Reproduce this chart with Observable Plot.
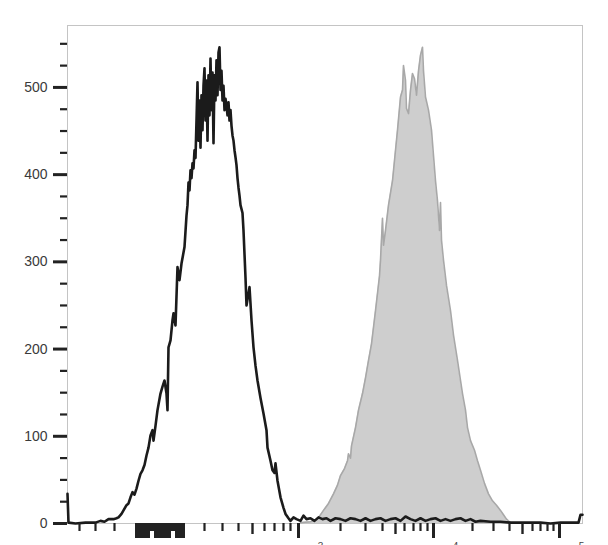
<!DOCTYPE html>
<html><head><meta charset="utf-8">
<script src="https://cdn.jsdelivr.net/npm/d3@7"></script>
<script src="https://cdn.jsdelivr.net/npm/@observablehq/plot@0.6"></script>
<style>html,body{margin:0;padding:0;background:#fff;overflow:hidden} #chart svg{display:block}</style>
</head><body><div id="chart"></div>
<script>
// Display channel (0–1030) vs. event count
const blackChannel = [0,2,16,36,56,66,74,82,92,98,
102,108,112,118,122,126,130,134,138,142,
146,150,154,158,162,166,170,172,176,180,
186,190,194,198,200,202,206,210,212,216,
220,224,228,234,238,240,242,244,246,248,
250,252,254,256,258,260,262,264,266,268,
270,272,274,276,278,280,282,284,286,288,
290,292,294,296,298,300,302,304,306,308,
310,312,314,316,318,320,322,324,326,328,
330,332,334,336,338,340,342,344,346,350,
352,356,358,364,368,372,376,380,386,392,
398,400,406,410,414,416,420,426,432,436,
442,446,452,458,466,472,478,486,494,502,
510,518,526,536,546,556,566,576,586,596,
606,616,626,636,646,656,666,676,686,696,
706,716,726,736,746,756,766,776,786,796,
806,816,826,846,866,886,906,926,946,966,
986,1006,1022,1026,1030];
const blackCount = [34,1,0,1,1,3,2,5,5,6,
7,11,15,21,23,30,36,33,40,49,
57,61,67,78,87,101,107,95,112,130,
149,157,164,149,130,202,210,233,241,227,
294,279,298,317,353,365,391,382,405,396,
413,407,428,419,462,506,439,485,431,491,
451,502,522,462,508,439,514,468,533,474,
517,436,514,485,531,491,540,546,497,519,
485,502,474,487,479,468,483,462,474,456,
445,439,428,420,411,396,385,376,365,356,
336,282,250,271,233,202,181,164,144,126,
107,87,72,61,58,69,49,30,18,11,
6,3,7,5,3,9,5,6,3,7,
5,6,3,6,5,3,6,5,3,6,
3,5,6,3,5,6,3,8,5,3,
6,3,5,6,3,5,3,5,6,3,
5,2,3,2,2,1,1,1,1,0,
1,1,1,10,10];

const grayChannel = [466,486,500,512,522,532,540,546,554,560,
562,566,568,576,582,590,596,602,608,612,
616,620,624,626,630,632,636,642,650,656,
660,666,670,672,676,678,682,686,690,694,
698,702,706,710,712,716,722,728,732,736,
740,744,746,748,752,758,766,772,780,786,
790,796,800,806,814,820,826,834,842,850,
858,866,872,878,886];
const grayCount = [1,2,5,15,23,34,44,55,63,72,
80,75,89,110,130,149,167,187,206,225,
244,264,284,302,350,319,336,365,393,428,
451,489,497,525,508,476,470,497,516,510,
491,519,537,546,519,489,474,451,422,393,
370,336,368,325,302,273,244,216,187,164,
149,130,110,95,84,72,61,46,34,26,
21,15,10,5,1];

// Axis ticks
const yMajor = [0,100,200,300,400,500];
const yMinor = [25,50,75,125,150,175,225,250,275,325,350,375,425,450,475,525,550];
const xMajor = [462,732,984];
const xCluster = [138,143,147,152,157,162,176,181,186,190,195,200,204,218,223,228,232];
const xClusterShort = [167,171,209,214];
const xMedium = [370,656,910];
const xMinor = [24,56,94,274,310,342,394,414,432,446,546,596,630,674,692,706,720,810,852,884,930,946,960,972];
const decadeExp = ["3","4","5"];

const black = blackChannel.map((c,i)=>({ch:c, n:blackCount[i]}));
const gray = grayChannel.map((c,i)=>({ch:c, n:grayCount[i]}));
const noLabel = () => "";

const chart = Plot.plot({
  width: 608, height: 545,
  marginLeft: 67, marginRight: 26, marginTop: 25, marginBottom: 22,
  style: {fontFamily: "'Liberation Sans', Arial, sans-serif", background: "#fff", overflow: "visible"},
  x: {domain: [0, 1030]},
  y: {domain: [0, 571]},
  marks: [
    Plot.frame({stroke: "#c4c4c4", strokeWidth: 1}),
    Plot.areaY(gray, {x: "ch", y: "n", fill: "#cecece"}),
    Plot.line(gray, {x: "ch", y: "n", stroke: "#a8a8a8", strokeWidth: 1.6}),
    Plot.line(black, {x: "ch", y: "n", stroke: "#1b1b1b", strokeWidth: 2.6}),
    Plot.axisY(yMajor, {anchor: "left", tickSize: 14, tickPadding: 6, strokeWidth: 3, stroke: "#222", fill: "#3a3a3a", fontSize: 14, label: null}),
    Plot.axisY(yMinor, {anchor: "left", tickSize: 7, strokeWidth: 2.2, stroke: "#222", tickFormat: noLabel, label: null}),
    Plot.axisX(xMajor, {anchor: "bottom", tickSize: 15, strokeWidth: 3, stroke: "#222", tickFormat: noLabel, label: null}),
    Plot.axisX(xCluster, {anchor: "bottom", tickSize: 15, strokeWidth: 3, stroke: "#222", tickFormat: noLabel, label: null}),
    Plot.axisX(xClusterShort, {anchor: "bottom", tickSize: 8, strokeWidth: 3, stroke: "#222", tickFormat: noLabel, label: null}),
    Plot.axisX(xMedium, {anchor: "bottom", tickSize: 11, strokeWidth: 2.4, stroke: "#222", tickFormat: noLabel, label: null}),
    Plot.axisX(xMinor, {anchor: "bottom", tickSize: 8, strokeWidth: 2.2, stroke: "#222", tickFormat: noLabel, label: null}),
    Plot.text(xMajor, {x: d => d, text: (d, i) => decadeExp[i], frameAnchor: "bottom", dy: 19, dx: 22, lineAnchor: "top", fontSize: 10, fill: "#444"})
  ]
});
document.getElementById("chart").appendChild(chart);
</script>
</body></html>
